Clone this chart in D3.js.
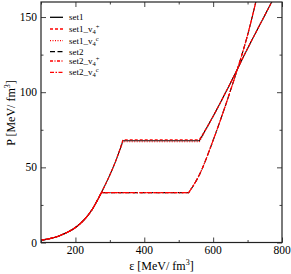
<!DOCTYPE html>
<html>
<head>
<meta charset="utf-8">
<script src="https://cdn.jsdelivr.net/npm/d3@7"></script>
<style>
  body { margin: 0; background: #fff; }
  text { font-family: "Liberation Serif", "DejaVu Serif", serif; fill: #000; }
</style>
</head>
<body>
<div id="chart"></div>
<script>
// data
// hadronic branch, shared by every set
var hadronEps = [100, 125, 150, 175, 200, 225, 250, 275, 300, 320, 338];
var hadronP   = [1.5, 2.6, 4.2, 6.6, 10, 15, 22.5, 33, 45, 56, 67.7];

// mixed phase (plateau): start, end, pressure
var set1PlateauEps = [338, 560];
var set1PlateauP   = [67.7, 68.4, 67.0];   // set1, set1_v4+, set1_v4c
var set2PlateauEps = [275.5, 529];
var set2PlateauP   = [33.2, 33.2, 33.2];   // set2, set2_v4+, set2_v4c

// quark branch
var set1QuarkEps = [560, 600, 650, 700, 770, 790];
var set1QuarkP   = [67.7, 84, 106, 129, 160, 169];
var set2QuarkEps = [529, 560, 600, 640, 670, 700, 724, 740];
var set2QuarkP   = [33.2, 45, 68, 94, 115, 138, 160, 175];

var xTicks = [200, 400, 600, 800];
var yTicks = [0, 50, 100, 150];
var xMinor = [100, 300, 500, 700];
var yMinor = [25, 75, 125];

var series = [
  { name: "set1",   sup: "",  set: 1, k: 0, color: "#000",    dash: null },
  { name: "set1_v", sup: "+", set: 1, k: 1, color: "#ff0000", dash: "3,2" },
  { name: "set1_v", sup: "c", set: 1, k: 2, color: "#ff0000", dash: "1,1.5" },
  { name: "set2",   sup: "",  set: 2, k: 0, color: "#000",    dash: "5,2.5" },
  { name: "set2_v", sup: "+", set: 2, k: 1, color: "#ff0000", dash: "3,1.5,1,1.5" },
  { name: "set2_v", sup: "c", set: 2, k: 2, color: "#ff0000", dash: "4,1.5,1.5,1.5" }
];

// size and margins
var width = 291;
var height = 274;
var pLeft = 41, pRight = 282, pTop = 2, pBottom = 242.5;

var svg = d3.select("#chart")
  .append("svg")
  .attr("width", width)
  .attr("height", height);

var xScale = d3.scaleLinear().domain([100, 800]).range([pLeft, pRight]);
var yScale = d3.scaleLinear().domain([0, 160]).range([pBottom, pTop]);

svg.append("clipPath").attr("id", "plotclip")
  .append("rect")
  .attr("x", pLeft).attr("y", pTop)
  .attr("width", pRight - pLeft).attr("height", pBottom - pTop);

// curves: smooth hadron part, straight plateau, smooth quark part
var smooth = d3.line()
  .x(function(d) { return xScale(d[0]); })
  .y(function(d) { return yScale(d[1]); })
  .curve(d3.curveMonotoneX);
var straight = d3.line()
  .x(function(d) { return xScale(d[0]); })
  .y(function(d) { return yScale(d[1]); });

function zip(xs, ys) {
  return xs.map(function(x, j) { return [x, ys[j]]; });
}

function seriesPath(s) {
  var plEps = s.set === 1 ? set1PlateauEps : set2PlateauEps;
  var plP = (s.set === 1 ? set1PlateauP : set2PlateauP)[s.k];
  var qEps = s.set === 1 ? set1QuarkEps : set2QuarkEps;
  var qP = s.set === 1 ? set1QuarkP : set2QuarkP;

  var had = zip(hadronEps, hadronP).filter(function(d) { return d[0] < plEps[0]; });
  had.push([plEps[0], plP]);
  var plat = [[plEps[0], plP], [plEps[1], plP]];
  var quark = zip(qEps, qP);
  quark[0] = [plEps[1], plP];
  return smooth(had) + straight(plat).replace(/^M[^L]*/, "") + smooth(quark).replace(/^M[^CL]*/, "");
}

var order = [0, 3, 1, 2, 4, 5];
order.forEach(function(i) {
  var s = series[i];
  svg.append("path")
    .attr("d", seriesPath(s))
    .attr("clip-path", "url(#plotclip)")
    .attr("fill", "none")
    .attr("stroke", s.color)
    .attr("stroke-width", 1.1)
    .attr("stroke-dasharray", s.dash);
});

// axes with inward ticks, mirrored
function tickAxis(axis, scale, major, minor, transform) {
  var g = svg.append("g").attr("transform", transform);
  g.call(axis(scale).tickValues(minor).tickSize(2.5).tickFormat(""));
  g.select(".domain").remove();
  var g2 = svg.append("g").attr("transform", transform);
  g2.call(axis(scale).tickValues(major).tickSize(5).tickFormat(""));
  g2.select(".domain").remove();
  svg.selectAll(".tick line").attr("stroke", "#444");
}

tickAxis(d3.axisTop, xScale, xTicks, xMinor, "translate(0," + pBottom + ")");
tickAxis(d3.axisBottom, xScale, xTicks, xMinor, "translate(0," + pTop + ")");
tickAxis(d3.axisRight, yScale, yTicks, yMinor, "translate(" + pLeft + ",0)");
tickAxis(d3.axisLeft, yScale, yTicks, yMinor, "translate(" + pRight + ",0)");

// frame
svg.append("rect")
  .attr("x", pLeft).attr("y", pTop)
  .attr("width", pRight - pLeft).attr("height", pBottom - pTop)
  .attr("fill", "none")
  .attr("stroke", "#222")
  .attr("stroke-width", 1.2);

// tick labels
svg.selectAll(".xlab").data(xTicks).enter()
  .append("text")
  .attr("x", function(d) { return xScale(d); })
  .attr("y", 254)
  .attr("text-anchor", "middle")
  .attr("font-size", 11.5)
  .text(function(d) { return d; });

svg.selectAll(".ylab").data(yTicks).enter()
  .append("text")
  .attr("x", 37)
  .attr("y", function(d) { return yScale(d) + 4; })
  .attr("text-anchor", "end")
  .attr("font-size", 11.5)
  .text(function(d) { return d; });

// axis titles
var xt = svg.append("text")
  .attr("x", (pLeft + pRight) / 2)
  .attr("y", 270)
  .attr("text-anchor", "middle")
  .attr("font-size", 12);
xt.append("tspan").text("\u03b5 [MeV/ fm");
xt.append("tspan").attr("font-size", 8).attr("dy", -5).text("3");
xt.append("tspan").attr("dy", 5).text("]");

var yt = svg.append("text")
  .attr("transform", "translate(14.5,113)rotate(-90)")
  .attr("text-anchor", "middle")
  .attr("font-size", 12);
yt.append("tspan").text("P [MeV/ fm");
yt.append("tspan").attr("font-size", 8).attr("dy", -5).text("3");
yt.append("tspan").attr("dy", 5).text("]");

// legend
var legY = [17.3, 29, 40.7, 51.7, 61, 72.3];
series.forEach(function(s, i) {
  var y = legY[i];
  svg.append("line")
    .attr("x1", 50).attr("x2", 63)
    .attr("y1", y).attr("y2", y)
    .attr("stroke", s.color)
    .attr("stroke-width", 1.3)
    .attr("stroke-dasharray", s.dash);
  var t = svg.append("text")
    .attr("x", 69)
    .attr("y", y + 3)
    .attr("font-size", 9);
  t.append("tspan").text(s.name);
  if (s.sup) {
    t.append("tspan").attr("font-size", 6.5).attr("dy", 2).text("4");
    t.append("tspan").attr("font-size", 6.5).attr("dy", -5).text(s.sup);
  }
});
</script>
</body>
</html>
